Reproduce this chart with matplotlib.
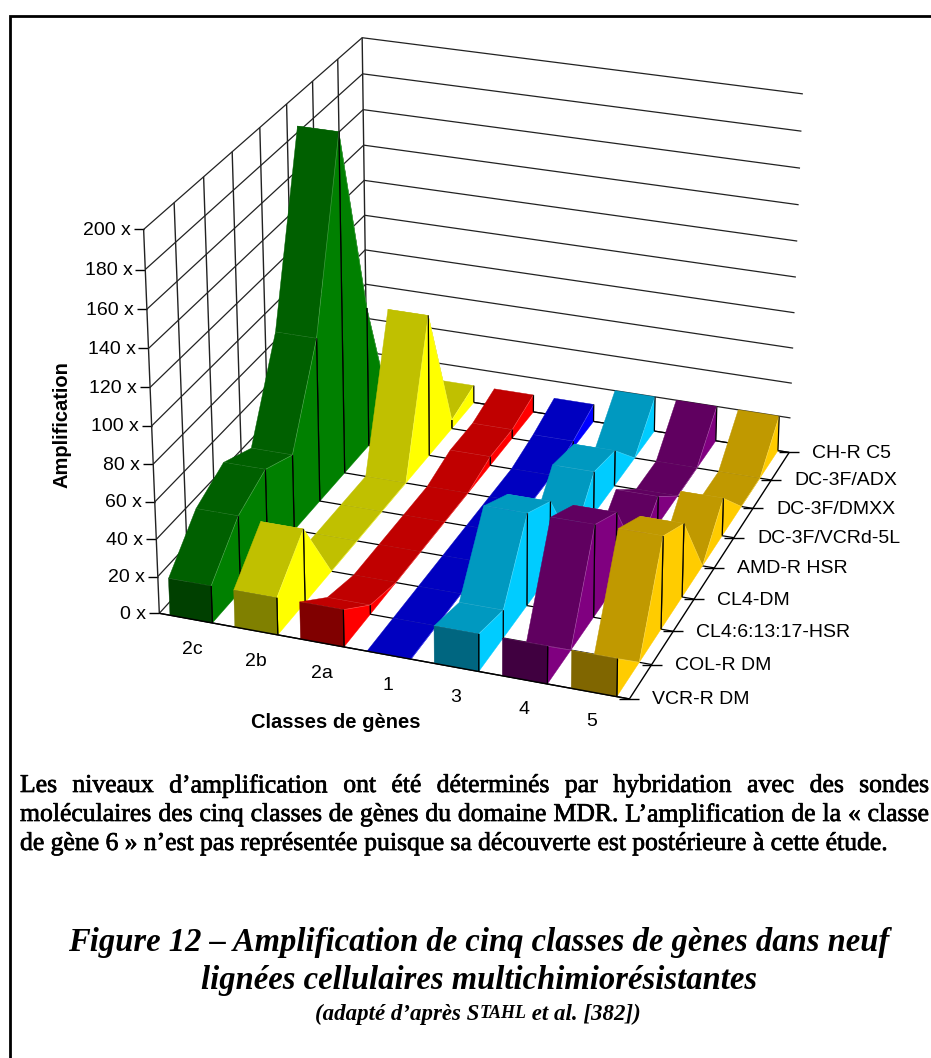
import matplotlib
matplotlib.use('Agg')
import matplotlib.pyplot as plt
import matplotlib.patheffects as pe
import numpy as np

# values per gene class, front (VCR-R DM) to back (CH-R C5)
class_2c = [20, 41, 50, 42, 91, 189, 79, 1, 10]
class_2b = [20, 40, 0, 0, 0, 0, 80, 5, 10]
class_2a = [20, 5, 0, 0, 0, 0, 5, 5, 10]
class_1 = [0, 0, 0, 0, 0, 0, 0, 4, 10]
class_3 = [20, 15, 50, 40, 0, 24, 20, 0, 20]
class_4 = [20, 0, 50, 40, 0, 16, 0, 0, 20]
class_5 = [20, 0, 50, 40, 0, 21, 0, 0, 20]
all_classes = [class_2c, class_2b, class_2a, class_1, class_3, class_4, class_5]

class_labels = ['2c', '2b', '2a', '1', '3', '4', '5']
line_labels = ['VCR-R DM', 'COL-R DM', 'CL4:6:13:17-HSR', 'CL4-DM', 'AMD-R HSR',
               'DC-3F/VCRd-5L', 'DC-3F/DMXX', 'DC-3F/ADX', 'CH-R C5']
z_ticks = list(range(0, 201, 20))

# front, top, side
colours = [('#004000', '#006000', '#008000'),
           ('#808000', '#C0C000', '#FFFF00'),
           ('#800000', '#C00000', '#FF0000'),
           ('#000080', '#0000C0', '#0000FF'),
           ('#006680', '#0099C0', '#00CCFF'),
           ('#400040', '#600060', '#800080'),
           ('#806600', '#C09900', '#FFCC00')]

n_x = len(class_labels)
n_y = len(line_labels) - 1
z_max = 200
inset_l, inset_r = 0.165, 0.82


# perspective camera, fitted on the box corners of the original
def fit_camera():
    world = [(0, 0, 200), (0, 0, 100), (0, 0, 0), (0, n_y, 200), (0, n_y, 60),
             (n_x, n_y, 200), (n_x, n_y, 100), (n_x, n_y, 0), (n_x, 0, 0)]
    pixel = [(143.7, 229.3), (151.7, 426), (159.3, 613.3), (362, 37.7), (365.7, 284.3),
             (803, 94), (795.7, 277), (789.3, 452.3), (629.3, 699)]
    rows, rhs = [], []
    for (x, y, z), (u, v) in zip(world, pixel):
        rows.append([x, y, z, 1, 0, 0, 0, 0, -u*x, -u*y, -u*z])
        rows.append([0, 0, 0, 0, x, y, z, 1, -v*x, -v*y, -v*z])
        rhs += [u, v]
    p = np.linalg.lstsq(np.array(rows, float), np.array(rhs, float), rcond=None)[0]
    return np.append(p, 1).reshape(3, 4)


camera = fit_camera()


def project(x, y, z):
    q = camera @ np.array([x, y, z, 1.0])
    return q[0]/q[2], q[1]/q[2]


fig = plt.figure(figsize=(9.31, 10.58), dpi=100)
ax = fig.add_axes([0, 0, 1, 1])
ax.set_xlim(0, 931)
ax.set_ylim(1058, 0)
ax.axis('off')
renderer = fig.canvas.get_renderer()

order = [3]


def poly(points, colour):
    order[0] += 1
    xs, ys = zip(*points)
    ax.fill(xs, ys, facecolor=colour, edgecolor=colour, linewidth=0.3, zorder=order[0])


def line(points, colour='black', lw=0.9, alpha=1.0):
    order[0] += 1
    xs, ys = zip(*points)
    ax.plot(xs, ys, color=colour, lw=lw, alpha=alpha, zorder=order[0], solid_capstyle='butt')


# walls
for z in z_ticks:
    line([project(0, 0, z), project(0, n_y, z), project(n_x, n_y, z)], '#222222', 0.9)
    u, v = project(0, 0, z)
    line([(u - 10, v), (u, v)], 'black', 1.0)
    ax.text(u - 13, v + 1, '%d x' % z, ha='right', va='center', fontsize=14,
            family='Liberation Sans', color='black')
for y in range(n_y + 1):
    line([project(0, y, 0), project(0, y, z_max)], '#222222', 1.0)
    line([project(0, y, 0), project(n_x, y, 0)], 'black', 0.9)
line([project(n_x, 0, 0), project(n_x, n_y, 0)], 'black', 1.0)

for y, name in enumerate(line_labels):
    u, v = project(n_x, y, 0)
    line([(u - 10, v), (u + 10, v)], 'black', 1.0)
    ax.text(u + 23, v + 1, name, ha='left', va='center', fontsize=14,
            family='Liberation Sans', color='black')

# ribbons, left to right and back to front
for i, values in enumerate(all_classes):
    front, top, side = colours[i]
    left, right = i + inset_l, i + inset_r
    for y in range(n_y - 1, -1, -1):
        a, b = values[y], values[y + 1]
        poly([project(left, y, a), project(right, y, a),
              project(right, y + 1, b), project(left, y + 1, b)], top)
        poly([project(right, y, 0), project(right, y, a),
              project(right, y + 1, b), project(right, y + 1, 0)], side)
        if b > 0:
            line([project(right, y + 1, 0), project(right, y + 1, b)], 'black', 0.9)
        if a > 0:
            line([project(right, y, 0), project(right, y, a)], 'black', 0.9)
        line([project(left, y, a), project(right, y, a), project(right, y + 1, b)],
             'white', 0.5, 0.25)
    a = values[0]
    if a > 0:
        poly([project(left, 0, 0), project(right, 0, 0),
              project(right, 0, a), project(left, 0, a)], front)
        line([project(right, 0, 0), project(right, 0, a)], 'black', 0.9)

line([project(0, 0, 0), project(n_x, 0, 0)], 'black', 1.0)

# labels of the chart
label_pos = [(192, 649), (256, 661), (322, 673), (388, 686), (456, 697), (524, 709), (592, 722)]
for name, (u, v) in zip(class_labels, label_pos):
    ax.text(u, v, name, ha='center', va='center', fontsize=14, family='Liberation Sans')
ax.text(336, 723, 'Classes de gènes', ha='center', va='center', fontsize=14.5,
        weight='bold', family='Liberation Sans')
ax.text(62, 425, 'Amplification', ha='center', va='center', rotation=90, fontsize=14.5,
        weight='bold', family='Liberation Sans')

# page frame
ax.plot([10, 10, 931], [1058, 16, 16], color='black', lw=2, zorder=1, solid_joinstyle='miter')

thick = [pe.withStroke(linewidth=0.5, foreground='black')]


def justify(words, x0, x1, y, size):
    items = [ax.text(0, y, w, va='center', ha='left', fontsize=size, family='Liberation Serif',
                     path_effects=thick) for w in words]
    widths = [t.get_window_extent(renderer).width for t in items]
    gap = (x1 - x0 - sum(widths))/(len(words) - 1)
    pos = x0
    for t, w in zip(items, widths):
        t.set_x(pos)
        pos += w + gap


body_size = 18.5
justify('Les niveaux d’amplification ont été déterminés par hybridation avec des sondes'.split(),
        20, 929, 786, body_size)
justify('moléculaires des cinq classes de gènes du domaine MDR. L’amplification de la « classe'.split(),
        20, 929, 815, body_size)
justify('de gène 6 » n’est pas représentée puisque sa découverte est postérieure à cette étude.'.split(),
        20, 888, 844, body_size)

ax.text(479, 943, 'Figure 12 – Amplification de cinq classes de gènes dans neuf', ha='center',
        va='center', fontsize=23.5, family='Liberation Serif', weight='bold', style='italic')
ax.text(479, 981, 'lignées cellulaires multichimiorésistantes', ha='center', va='center',
        fontsize=23.5, family='Liberation Serif', weight='bold', style='italic')

# small capitals of the author name, written piece by piece
pieces = [('(adapté d’après S', 16.5), ('TAHL', 13), (' et al. [382])', 16.5)]
u = 315
for piece, size in pieces:
    t = ax.text(u, 1012, piece, ha='left', va='center_baseline', fontsize=size,
                family='Liberation Serif', weight='bold', style='italic')
    u += t.get_window_extent(renderer).width

fig.savefig('out.png', dpi=100)
